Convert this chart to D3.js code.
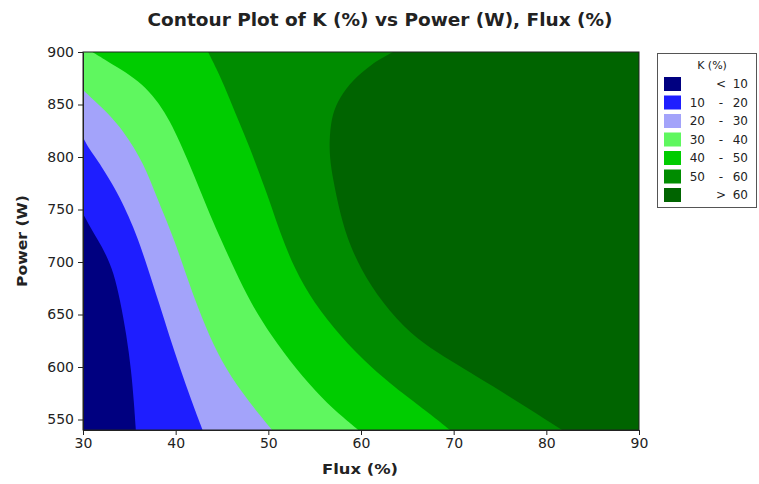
<!DOCTYPE html>
<html>
<head>
<meta charset="utf-8">
<script src="https://cdn.jsdelivr.net/npm/d3@7"></script>
<style>
  body { margin: 0; background: #fff; }
  svg { display: block; }
</style>
</head>
<body>
<svg id="chart" width="759" height="484"></svg>
<script>
// ---- Data ----
const fluxTicks = [30, 40, 50, 60, 70, 80, 90];
const powerTicks = [550, 600, 650, 700, 750, 800, 850, 900];
const fluxDomain = [30, 90];
const powerDomain = [540, 900];

// Contour levels and band labels/colours
const levels = [10, 20, 30, 40, 50, 60];
const bandLo = ["", "10", "20", "30", "40", "50", ""];
const bandSep = ["<", "-", "-", "-", "-", "-", ">"];
const bandHi = ["10", "20", "30", "40", "50", "60", "60"];
const bandColors = ["#000080", "#1e1eff", "#a3a3fa", "#5ff75f", "#00cc00", "#008c00", "#006400"];

// Contour boundaries [Flux, Power]: region to the right is above the level
const k10 = [[30, 746], [30.8, 733], [31.6, 721], [32.5, 707], [33.3, 690], [34.0, 664], [34.7, 630], [35.2, 597], [35.5, 566], [35.7, 540]];
const k20 = [[30, 819], [30.5, 810], [31.3, 800], [32.0, 791], [32.9, 778], [34.0, 761], [34.9, 744], [35.9, 723], [37.0, 694], [38.2, 661], [39.3, 630], [40.5, 598], [41.7, 568], [42.9, 540]];
const k30 = [[30, 864], [30.8, 857], [32.8, 841], [34.3, 825], [35.5, 809], [36.5, 793], [37.3, 777], [38.0, 761], [38.8, 744], [39.8, 722], [40.9, 694], [42.2, 661], [43.6, 630], [45.4, 598], [47.7, 569], [50.4, 540]];
const k40 = [[31.0, 900], [33.2, 888], [35.1, 878], [36.8, 866], [38.2, 851], [39.4, 834], [40.4, 815], [41.5, 793], [42.6, 769], [43.7, 745], [44.9, 721], [46.4, 692], [48.1, 661], [50.3, 630], [53.0, 598], [55.8, 570], [58.2, 551], [59.7, 540]];
const k50 = [[43.5, 900], [44.7, 879], [45.8, 856], [46.9, 832], [48.0, 809], [49.0, 785], [50.1, 759], [51.3, 727], [52.8, 694], [54.9, 661], [57.7, 630], [61.1, 599], [65.2, 570], [67.5, 555], [69.6, 540]];
const k60 = [[63.45, 900], [61.0, 888], [59.1, 873], [57.7, 857], [56.9, 841], [56.6, 821], [56.6, 800], [57.0, 778], [57.6, 752], [58.4, 725], [59.9, 694], [62.3, 661], [65.4, 631], [68.2, 614], [71.0, 599], [74.2, 582], [77.6, 563], [81.7, 540]];
const boundaries = [k10, k20, k30, k40, k50, k60];

// ---- Layout ----
const svg = d3.select("#chart");
const L = 83, R = 639, T = 52, B = 430;
const x = d3.scaleLinear().domain(fluxDomain).range([L, R]);
const y = d3.scaleLinear().domain(powerDomain).range([B, T]);

svg.append("defs").append("clipPath").attr("id", "plotclip")
  .append("rect").attr("x", L).attr("y", T).attr("width", R - L).attr("height", B - T);

const g = svg.append("g").attr("clip-path", "url(#plotclip)");

// base band (< 10)
g.append("rect").attr("x", x(fluxDomain[0])).attr("y", y(powerDomain[1]))
  .attr("width", x(fluxDomain[1]) - x(fluxDomain[0]))
  .attr("height", y(powerDomain[0]) - y(powerDomain[1]))
  .attr("fill", bandColors[0]);

const curve = d3.line().x(d => x(d[0])).y(d => y(d[1])).curve(d3.curveBasis);
const lin = d3.line().x(d => x(d[0])).y(d => y(d[1]));

boundaries.forEach((pts, i) => {
  const last = pts[pts.length - 1];
  const first = pts[0];
  const corners = [last, [fluxDomain[1], powerDomain[0]], [fluxDomain[1], powerDomain[1]]];
  if (first[1] < powerDomain[1]) corners.push([fluxDomain[0], powerDomain[1]]);
  corners.push(first);
  const d = curve(pts) + lin(corners).replace(/^M/, "L") + "Z";
  g.append("path").attr("d", d).attr("fill", bandColors[i + 1]);
});

// frame
svg.append("rect").attr("x", L).attr("y", T).attr("width", R - L).attr("height", B - T)
  .attr("fill", "none").attr("stroke", "#222").attr("stroke-width", 1);

// axes
const fontTick = "DejaVu Sans, Verdana, sans-serif";
const xAxis = svg.append("g").attr("transform", `translate(0,${B})`)
  .call(d3.axisBottom(x).tickValues(fluxTicks).tickSize(5).tickSizeOuter(0).tickPadding(3));
const yAxis = svg.append("g").attr("transform", `translate(${L},0)`)
  .call(d3.axisLeft(y).tickValues(powerTicks).tickSize(5).tickSizeOuter(0).tickPadding(4));
[xAxis, yAxis].forEach(a => {
  a.select(".domain").attr("stroke", "#222");
  a.selectAll(".tick line").attr("stroke", "#222");
  a.selectAll(".tick text").attr("font-family", fontTick).attr("font-size", 14).attr("fill", "#222");
});

// titles
svg.append("text").attr("x", 380).attr("y", 26).attr("text-anchor", "middle")
  .attr("font-family", fontTick).attr("font-weight", "bold").attr("font-size", 18)
  .attr("fill", "#222").attr("textLength", 465).attr("lengthAdjust", "spacingAndGlyphs")
  .text("Contour Plot of K (%) vs Power (W), Flux (%)");

svg.append("text").attr("x", 360).attr("y", 474).attr("text-anchor", "middle")
  .attr("font-family", fontTick).attr("font-weight", "bold").attr("font-size", 14)
  .attr("fill", "#222").attr("textLength", 76).attr("lengthAdjust", "spacingAndGlyphs")
  .text("Flux (%)");

svg.append("text").attr("transform", "translate(27,241) rotate(-90)").attr("text-anchor", "middle")
  .attr("font-family", fontTick).attr("font-weight", "bold").attr("font-size", 14)
  .attr("fill", "#222").attr("textLength", 92).attr("lengthAdjust", "spacingAndGlyphs")
  .text("Power (W)");

// legend
const lg = svg.append("g");
lg.append("rect").attr("x", 657.5).attr("y", 53.5).attr("width", 99).attr("height", 154)
  .attr("fill", "#fff").attr("stroke", "#555").attr("stroke-width", 1);
lg.append("text").attr("x", 712).attr("y", 69).attr("text-anchor", "middle")
  .attr("font-family", fontTick).attr("font-size", 11).attr("fill", "#222").text("K (%)");
bandColors.forEach((c, i) => {
  const cy = 84 + i * 18.5;
  lg.append("rect").attr("x", 664).attr("y", cy - 7).attr("width", 17).attr("height", 14).attr("fill", c);
  const tf = t => t.attr("font-family", fontTick).attr("font-size", 12).attr("fill", "#222").attr("dy", "0.35em");
  if (bandLo[i]) tf(lg.append("text").attr("x", 705).attr("y", cy).attr("text-anchor", "end").text(bandLo[i]));
  tf(lg.append("text").attr("x", 721).attr("y", cy).attr("text-anchor", "middle").text(bandSep[i]));
  tf(lg.append("text").attr("x", 748).attr("y", cy).attr("text-anchor", "end").text(bandHi[i]));
});
</script>
</body>
</html>
